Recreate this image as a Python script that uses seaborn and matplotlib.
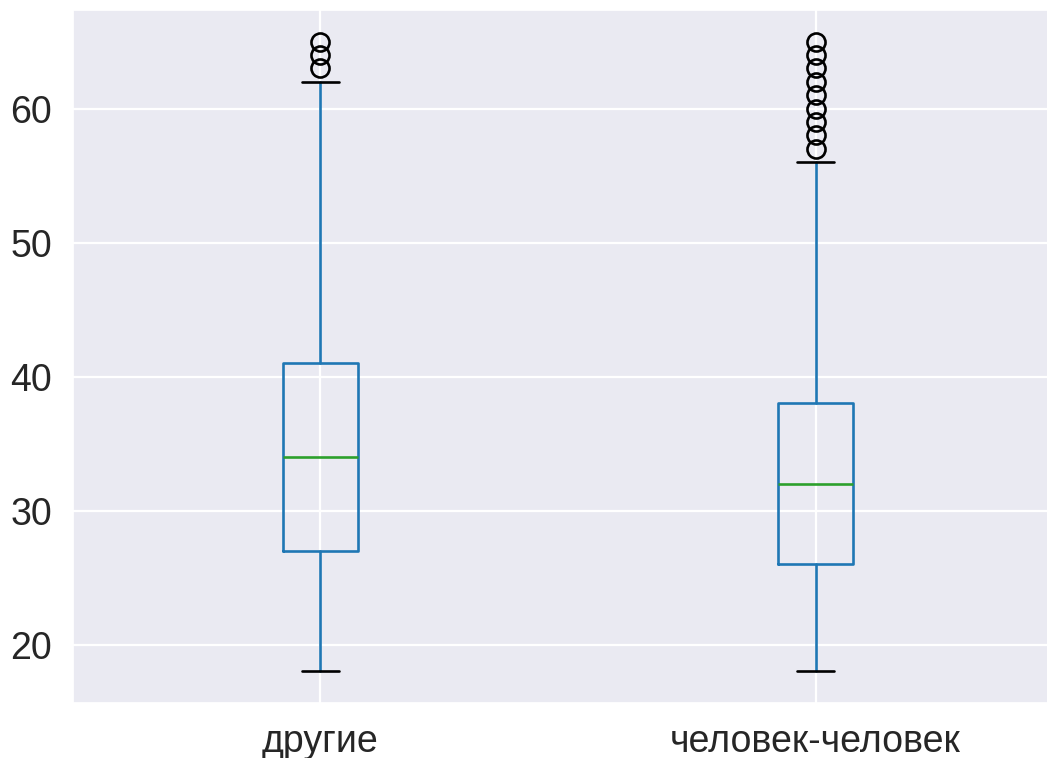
import matplotlib
matplotlib.use("Agg")
import matplotlib.pyplot as plt
import seaborn as sns

# Summary statistics of age per contact group
groups = ["другие", "человек-человек"]
q1 = [27, 26]
medians = [34, 32]
q3 = [41, 38]
whisker_low = [18, 18]
whisker_high = [62, 56]
outliers = [
    [63, 64, 65],
    [57, 58, 59, 60, 61, 62, 63, 64, 65],
]

sns.set_theme(style="darkgrid")
plt.rcParams["font.family"] = ["Liberation Sans", "DejaVu Sans"]
plt.rcParams["grid.linewidth"] = 1.6

stats = [
    dict(label=g, q1=a, med=m, q3=b, whislo=lo, whishi=hi, fliers=f)
    for g, a, m, b, lo, hi, f in zip(groups, q1, medians, q3,
                                     whisker_low, whisker_high, outliers)
]

fig = plt.figure(figsize=(10.47, 7.58), dpi=100)
ax = fig.add_axes([0.0697, 0.0726, 0.9456, 0.9142])

blue = "#1f77b4"
green = "#2ca02c"
ax.bxp(
    stats,
    widths=0.15,
    boxprops=dict(color=blue, linewidth=1.9),
    whiskerprops=dict(color=blue, linewidth=1.9),
    capprops=dict(color="black", linewidth=1.9),
    medianprops=dict(color=green, linewidth=1.9),
    flierprops=dict(marker="o", markersize=13, markerfacecolor="none",
                    markeredgecolor="black", markeredgewidth=1.9),
)

ax.set_ylim(15.65, 67.35)
ax.set_xlim(0.5, 2.5)
ax.set_yticks([20, 30, 40, 50, 60])
ax.tick_params(axis="y", labelsize=27, pad=15, length=0)
ax.tick_params(axis="x", labelsize=27, pad=15, length=0)
ax.grid(True, axis="both")

fig.savefig("out.png", dpi=100)
